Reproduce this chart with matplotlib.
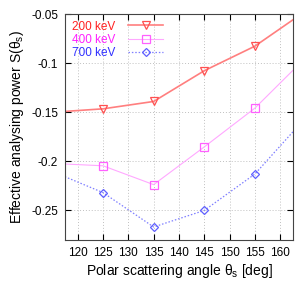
import matplotlib
matplotlib.use("Agg")
import matplotlib.pyplot as plt

angles = [115, 125, 135, 145, 155, 165]
s_200 = [-0.1500, -0.1465, -0.1390, -0.1077, -0.0827, -0.0470]
s_400 = [-0.2021, -0.2045, -0.2237, -0.1853, -0.1458, -0.0946]
s_700 = [-0.2103, -0.2318, -0.2668, -0.2500, -0.2129, -0.1557]
labels = ["200 keV", "400 keV", "700 keV"]
xticks = [120, 125, 130, 135, 140, 145, 150, 155, 160]
yticks = [-0.25, -0.2, -0.15, -0.1, -0.05]
ytick_labels = ["-0.25", "-0.2", "-0.15", "-0.1", "-0.05"]

plt.rcParams['font.family'] = ['Liberation Sans', 'DejaVu Sans']
plt.rcParams['mathtext.fontset'] = 'custom'
plt.rcParams['mathtext.rm'] = 'Liberation Sans'
plt.rcParams['mathtext.it'] = 'Liberation Sans:italic'

fig = plt.figure(figsize=(2.97, 2.87), dpi=100)
ax = fig.add_axes([0.219, 0.164, 0.767, 0.787])

l1, = ax.plot(angles, s_200, color="#ff7f7f", lw=1.2, ls="-",
              marker="v", ms=6, mfc="none", mec="#ff5050", mew=0.9, label=labels[0])
l2, = ax.plot(angles, s_400, color="#ffa8ff", lw=0.8, ls="-",
              marker="s", ms=5.5, mfc="none", mec="#ff60ff", mew=0.9, label=labels[1])
l3, = ax.plot(angles, s_700, color="#7f7fff", lw=0.9, ls=(0, (1.2, 1.5)),
              marker="D", ms=4.5, mfc="none", mec="#6060ff", mew=0.9, label=labels[2])

ax.set_xlim(117.5, 162.5)
ax.set_ylim(-0.28, -0.05)
ax.set_xticks(xticks)
ax.set_yticks(yticks)
ax.set_yticklabels(ytick_labels)
ax.tick_params(direction="in", top=True, right=True, labelsize=8.5, length=4, width=0.8, pad=5)
ax.grid(True, color="#c0c0c0", ls=(0, (1, 2)), lw=0.7)
for sp in ax.spines.values():
    sp.set_color("#444444")

ax.set_xlabel("Polar scattering angle θ$_\\mathrm{s}$ [deg]", fontsize=10, labelpad=2)
ax.set_ylabel("Effective analysing power S(θ$_\\mathrm{s}$)", fontsize=10, labelpad=4)

leg = ax.legend(loc="upper left", markerfirst=False, frameon=False, fontsize=8.5,
                handlelength=3.0, handletextpad=1.1, labelspacing=0.1,
                borderaxespad=0.35, borderpad=0.2)
for txt, c in zip(leg.get_texts(), ["#ff2020", "#ff20ff", "#3030ff"]):
    txt.set_color(c)

fig.savefig("out.png", dpi=100)
